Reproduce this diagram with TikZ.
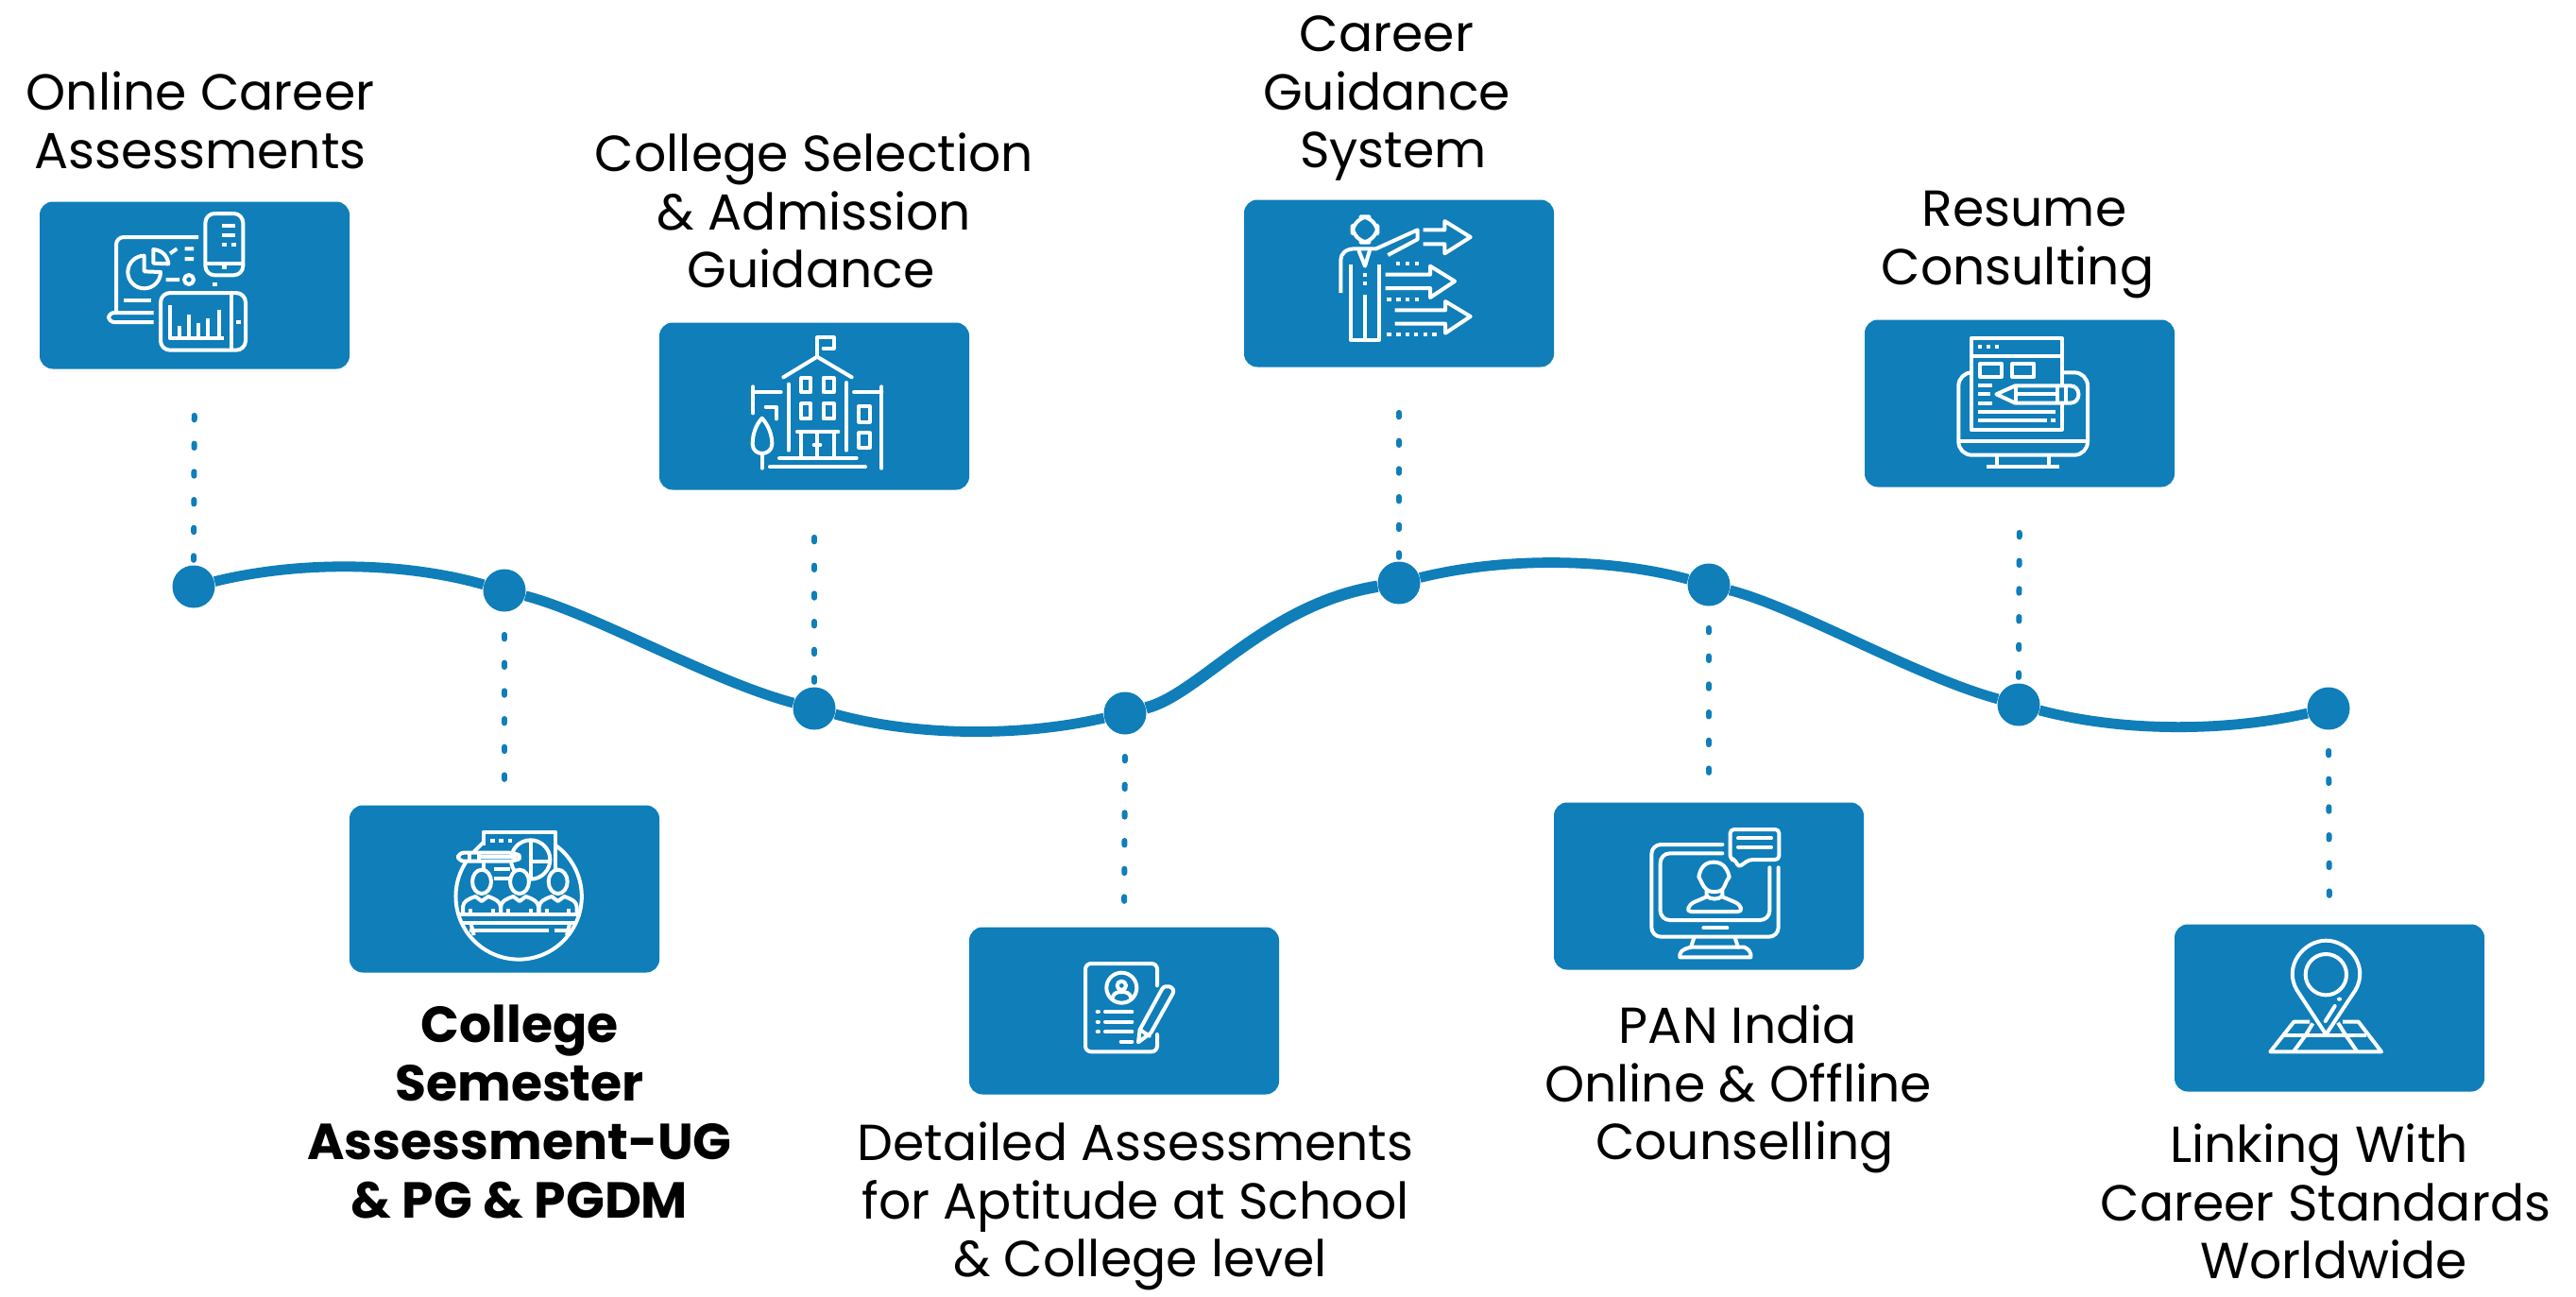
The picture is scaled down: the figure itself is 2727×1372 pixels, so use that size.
\documentclass[tikz,border=0pt]{standalone}
\usepackage{fontspec}
\setmainfont{Poppins}
\usetikzlibrary{arrows.meta, positioning}
\definecolor{trackblue}{HTML}{0F7EB9}
\def\textsize{\fontsize{26.8}{30.9}\selectfont}

\begin{document}
\begin{tikzpicture}[x=0.5pt,y=-0.5pt]
    \tikzstyle{card}=[rectangle,rounded corners=7pt,fill=trackblue,minimum width=164pt,minimum height=88.5pt,inner sep=0pt]
    \tikzstyle{stop}=[circle,fill=trackblue,minimum size=22.5pt,inner sep=0pt]
    \tikzstyle{track}=[draw=trackblue,line width=5.4pt]
    \tikzstyle{link}=[draw=trackblue,line width=3pt,line cap=round,dash pattern=on 2.2pt off 12.65pt]
    \tikzstyle{caption}=[align=center,font=\textsize,text=black,inner sep=0pt]
    \tikzstyle{icon}=[x=0.16667pt,y=-0.16667pt,draw=white,line width=2pt,line join=round]
    \useasboundingbox (0,0) rectangle (2727,1372);

    % Draw the cards
    \foreach \name / \x / \y in {1/206/302,2/862/430,3/1481/300,4/2138/427,5/534/941,6/1190/1070,7/1809/938,8/2466/1067}
        \node[card] (C-\name) at (\x,\y) {};

    % Draw the stops on the track
    \foreach \name / \x / \y in {1/205/621,2/534/625,3/862/750,4/1191/755,5/1481/617,6/1809/619,7/2137/746,8/2465/750}
        \node[stop] (S-\name) at (\x,\y) {};

    % The track itself
    \draw[track] (S-1) .. controls (315,594) and (424,594) .. (S-2);
    \draw[track] (S-2) .. controls (630,650) and (750,720) .. (S-3);
    \draw[track] (S-3) .. controls (972,780) and (1081,780) .. (S-4);
    \draw[track,line width=6.2pt] (S-4) .. controls (1270,735) and (1340,640) .. (S-5);
    \draw[track] (S-5) .. controls (1590,590) and (1700,590) .. (S-6);
    \draw[track] (S-6) .. controls (1905,644) and (2025,715) .. (S-7);
    \draw[track] (S-7) .. controls (2246,775) and (2355,775) .. (S-8);

    % Dotted links, upper cards
    \foreach \name / \gap in {1/24.5pt,3/25pt,5/24pt,7/24pt}
        \pgfmathtruncatemacro{\card}{\name==1 ? 1 : (\name==3 ? 2 : (\name==5 ? 3 : 4))}
        \draw[link,shorten <=\gap] (C-\card.south) -- (S-\name.north);
    % and the lower ones
    \foreach \name / \gap in {2/12pt,4/11.5pt,6/11.5pt,8/11pt}
        \pgfmathtruncatemacro{\card}{\name==2 ? 5 : (\name==4 ? 6 : (\name==6 ? 7 : 8))}
        \draw[link,shorten <=\gap,shorten >=10pt] (S-\name.south) -- (C-\card.north);

    % Captions
    \node[caption] (T-1) at (212,127) {Online Career\\Assessments};
    \node[caption] (T-2) at (862,223) {College Selection\\\& Admission\hspace*{3.5pt}\\Guidance\hspace*{3.5pt}};
    \node[caption] (T-3) at (1468,104) {Career\\Guidance\\\hspace*{7pt}System};
    \node[caption] (T-4) at (2136,259) {\hspace*{7pt}Resume\\Consulting};
    \node[caption,font=\textsize\bfseries] (T-5) at (550,1177) {College\\Semester\\Assessment-UG\hspace*{4pt}\\\& PG \& PGDM};
    \node[caption] (T-6) at (1202,1277) {Detailed Assessments\\for Aptitude at School\\\hspace*{5pt}\& College level};
    \node[caption] (T-7) at (1840,1153) {PAN India\\Online \& Offline\\\hspace*{7pt}Counselling};
    \node[caption] (T-8) at (2462,1272) {Linking With\hspace*{7pt}\\Career Standards\\\hspace*{8.5pt}Worldwide};

    % Icon on card 1: devices
    \begin{scope}[shift={(30,200)},icon]
        \draw[rounded corners=5pt] (562,78) rectangle (682,274);
        \draw (562,236) -- (682,236) (615,116) -- (658,116) (615,146) -- (658,146);
        \draw (615,176) -- (629,176) (645,176) -- (659,176) (615,250) -- (629,250) (585,303) -- (599,303);
        \draw[rounded corners=4pt] (540,153) -- (279,153) -- (279,390);
        \draw[rounded corners=3pt] (398,393) -- (255,393) -- (255,423) -- (398,423);
        \draw (303,354) -- (390,354);
        \draw (368,262) -- (368,212) arc[start angle=-90,end angle=-360,radius=52] -- cycle;
        \draw (397,192) -- (397,236) -- (445,238) .. controls (442,212) and (425,195) .. cycle;
        \draw (450,205) -- (472,190) (497,190) -- (525,190) (497,222) -- (525,222) (437,288) -- (480,288);
        \draw (510,288) circle[radius=15];
        \draw[rounded corners=5pt] (420,330) rectangle (690,512);
        \draw (645,330) -- (645,512) (660,422) -- (674,422);
        \draw (450,370) -- (450,475) -- (620,475);
        \draw (480,435) -- (480,475) (510,400) -- (510,475) (540,425) -- (540,475) (570,410) -- (570,475) (605,385) -- (605,475);
    \end{scope}

    % Icon on card 2: college building
    \begin{scope}[shift={(690,330)},icon,line cap=round]
        \draw (418,208) -- (525,143) -- (635,208);
        \draw (525,143) -- (525,82) -- (578,82) -- (578,116) -- (545,116);
        \draw (435,230) -- (435,440) (618,225) -- (618,440);
        \draw (475,210) rectangle (505,255) (545,210) rectangle (578,255);
        \draw (475,292) rectangle (505,340) (545,292) rectangle (578,340);
        \draw (462,381) -- (592,381) (475,381) -- (475,460) (525,381) -- (525,460) (578,381) -- (578,460);
        \draw (515,423) -- (535,423);
        \draw (405,465) -- (650,465) (375,493) -- (678,493);
        \draw (322,238) -- (322,322) (322,255) -- (410,255);
        \draw (362,302) -- (395,302) -- (395,340);
        \draw (350,338) .. controls (330,360) and (320,390) .. (320,420) .. controls (320,440) and (335,450) .. (350,450) .. controls (365,450) and (382,440) .. (382,420) .. controls (382,390) and (370,360) .. cycle;
        \draw (350,450) -- (350,497);
        \draw (642,255) -- (730,255) (730,238) -- (730,497);
        \draw (658,300) rectangle (692,350) (658,385) rectangle (692,432);
    \end{scope}

    % Icon on card 3: presenter and arrows
    \begin{scope}[shift={(1310,200)},icon]
        \draw[rounded corners=9pt] (365,88) rectangle (445,170);
        \draw (328,330) -- (328,225) .. controls (328,205) and (345,190) .. (372,190) -- (440,190) -- (572,130) -- (572,160) -- (478,210);
        \draw (385,195) -- (405,245) -- (420,195);
        \draw (360,240) -- (360,480) -- (450,480) -- (450,240) (405,335) -- (405,480);
        \draw (398,272) -- (412,272) (398,300) -- (412,300);
        \draw (590,130) -- (658,130) -- (658,102) -- (740,153) -- (658,205) -- (658,175) -- (590,175);
        \draw (470,272) -- (612,272) -- (612,245) -- (690,293) -- (612,345) -- (612,315) -- (470,315);
        \draw (500,385) -- (660,385) -- (660,357) -- (740,405) -- (660,458) -- (660,428) -- (500,428);
        \foreach \x in {510,540,570}
            \draw (\x-7,237) -- (\x+7,237);
        \foreach \x in {482,512,540,570}
            \draw (\x-7,350) -- (\x+7,350);
        \foreach \x in {482,512,540,567,597,625}
            \draw (\x-7,462) -- (\x+7,462);
    \end{scope}

    % Icon on card 4: monitor and page
    \begin{scope}[shift={(1970,330)},icon]
        \draw[fill=trackblue] (350,84) rectangle (638,374);
        \draw (350,140) -- (638,140);
        \foreach \x in {378,405,432}
            \draw (\x-7,112) -- (\x+7,112);
        \draw (378,165) rectangle (447,207) (480,165) rectangle (550,207);
        \draw (372,235) -- (418,235) (372,262) -- (412,262) (372,290) -- (418,290) (372,317) -- (617,317) (372,344) -- (590,344) (603,344) -- (617,344);
        \draw[fill=trackblue] (430,262) -- (490,235) -- (665,235) .. controls (700,235) and (700,290) .. (665,290) -- (490,290) -- cycle;
        \draw (492,235) -- (492,290) (492,262) -- (625,262) (625,235) -- (625,290) (650,235) -- (650,290);
        \draw[rounded corners=7pt] (345,193) -- (310,193) -- (310,455) -- (720,455) -- (720,193) -- (640,193);
        \draw (310,412) -- (720,412);
        \draw (432,455) -- (432,493) (597,455) -- (597,493) (398,493) -- (630,493);
    \end{scope}

    % Icon on card 5: audience
    \begin{scope}[shift={(370,850)},icon]
        \draw (655,135) arc[start angle=-54,end angle=213,radius=200];
        \draw (395,155) -- (425,125);
        \draw (425,135) -- (425,92) -- (655,92) -- (655,225);
        \foreach \x in {455,482,510}
            \draw (\x-7,120) -- (\x+7,120);
        \draw (575,180) circle[radius=62];
        \draw (575,118) -- (575,242) (575,185) -- (637,185);
        \draw[fill=trackblue,rounded corners=3pt] (525,158) -- (345,158) -- (345,185) -- (525,185) -- (548,172) -- cycle;
        \draw (380,158) -- (380,185) (410,158) -- (410,185) (410,172) -- (530,172);
        \draw (460,210) -- (510,210) (460,240) -- (510,240) (425,185) -- (425,225);
        \foreach \x in {420,540,662}{
            \draw[fill=trackblue] (\x,250) ellipse[x radius=30,y radius=38];
            \draw (\x-60,350) -- (\x-60,330) .. controls (\x-58,312) and (\x-45,306) .. (\x-20,297) -- (\x,312) -- (\x+20,297) .. controls (\x+45,306) and (\x+58,312) .. (\x+60,330) -- (\x+60,350);
            \draw (\x-35,335) -- (\x-35,350) (\x+35,335) -- (\x+35,350);
        }
        \draw (345,355) -- (735,355) (360,380) -- (720,380) (380,405) -- (632,405) (650,405) -- (700,405);
        \draw (385,380) -- (395,420) (700,380) -- (690,420);
    \end{scope}

    % Icon on card 6: report and pencil
    \begin{scope}[shift={(1030,980)},icon,line cap=round]
        \draw[rounded corners=3pt] (585,190) -- (585,120) -- (357,120) -- (357,400) -- (585,400) -- (585,345);
        \draw (472,197) circle[radius=48] (472,190) circle[radius=14];
        \draw (442,232) .. controls (445,212) and (460,210) .. (472,210) .. controls (485,210) and (500,212) .. (503,232);
        \draw (395,273) -- (399,273) (395,305) -- (399,305) (395,337) -- (399,337);
        \draw (420,273) -- (505,273) (420,305) -- (505,305) (420,337) -- (505,337) (470,368) -- (505,368);
        \draw (525,370) -- (530,330) -- (600,202) .. controls (610,182) and (645,195) .. (635,215) -- (565,340) -- cycle;
        \draw (530,330) -- (560,350);
    \end{scope}

    % Icon on card 7: online session
    \begin{scope}[shift={(1650,850)},icon,line cap=round]
        \draw[rounded corners=5pt] (520,132) -- (295,132) -- (295,425) -- (698,425) -- (698,205);
        \draw[rounded corners=5pt] (520,160) -- (323,160) -- (323,372) -- (670,372) -- (670,205);
        \draw[rounded corners=2pt] (545,84) -- (700,84) -- (700,180) -- (605,180) -- (570,205) -- (562,180) -- (545,180) -- cycle;
        \draw (570,112) -- (675,112) (570,140) -- (675,140);
        \draw (470,275) .. controls (455,262) and (455,250) .. (445,235) .. controls (450,205) and (465,188) .. (492,188) .. controls (520,188) and (535,205) .. (542,235) .. controls (530,250) and (530,262) .. (520,275) .. controls (510,285) and (480,285) .. cycle;
        \draw (470,280) -- (470,298) -- (430,315) .. controls (410,325) and (405,345) .. (420,345) -- (570,345) .. controls (585,345) and (582,325) .. (560,315) -- (520,298) -- (520,280);
        \draw (470,295) .. controls (480,308) and (510,308) .. (520,295);
        \draw (460,397) -- (535,397);
        \draw (430,428) -- (420,458) (560,428) -- (570,458);
        \draw (420,458) -- (590,458) .. controls (605,465) and (612,475) .. (610,490) -- (385,490) .. controls (383,475) and (390,465) .. (420,458);
    \end{scope}

    % Icon on card 8: map pin
    \begin{scope}[shift={(2300,980)},icon]
        \draw (487,345) -- (395,205) .. controls (350,130) and (415,47) .. (487,47) .. controls (560,47) and (625,130) .. (580,205) -- cycle;
        \draw (487,155) circle[radius=65];
        \draw[line cap=round] (485,303) -- (515,255) (528,233) -- (531,233);
        \draw (435,305) -- (385,305) -- (310,400) -- (663,400) -- (590,305) -- (540,305);
        \draw (355,348) -- (615,348);
        \draw (385,398) -- (422,348) -- (445,310) (585,398) -- (550,348) -- (525,308);
    \end{scope}
\end{tikzpicture}
\end{document}
